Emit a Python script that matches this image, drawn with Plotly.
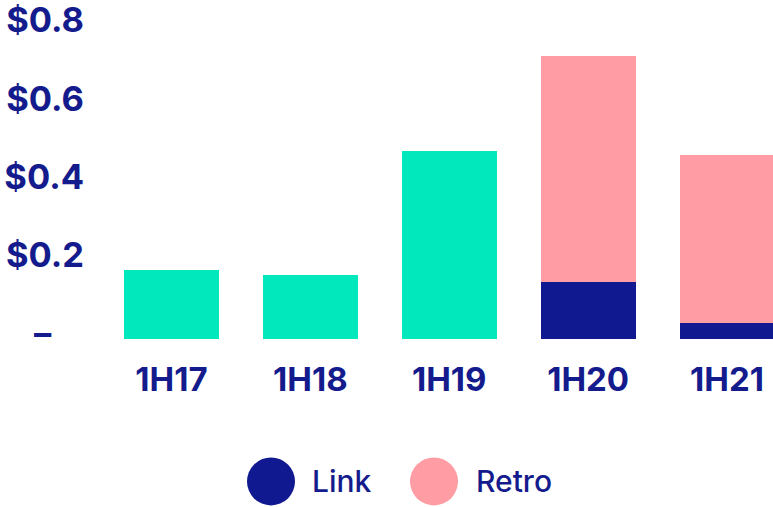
import plotly.graph_objects as go

categories = ["1H17", "1H18", "1H19", "1H20", "1H21"]
core_values = [0.177, 0.164, 0.480, None, None]
link_values = [None, None, None, 0.146, 0.041]
retro_values = [None, None, None, 0.577, 0.429]
y_tick_values = [0, 0.2, 0.4, 0.6, 0.8]
y_tick_labels = ["–" + "\u00a0" * 4, "$0.2", "$0.4", "$0.6", "$0.8"]
legend_names = ["Link", "Retro"]

NAVY = "#10198F"
GREEN = "#00E8BC"
PINK = "#FF9CA4"
TEXT = "#141B8C"
FONT = "Inter"

W, H = 773, 507
ML, MR, MT, MB = 102, 0, 0, 168

fig = go.Figure()
fig.add_bar(x=categories, y=core_values, name="Other", marker_color=GREEN,
            marker_line_width=0, showlegend=False)
fig.add_bar(x=categories, y=link_values, name="Link", marker_color=NAVY,
            marker_line_width=0, showlegend=False)
fig.add_bar(x=categories, y=retro_values, name="Retro", marker_color=PINK,
            marker_line_width=0, showlegend=False)

plot_w = W - ML - MR
plot_h = H - MT - MB
px_per_unit = 398.0

fig.update_layout(
    width=W, height=H,
    margin=dict(l=ML, r=MR, t=MT, b=MB, pad=0),
    barmode="stack",
    bargap=0.316,
    plot_bgcolor="white",
    paper_bgcolor="white",
    showlegend=False,
    font=dict(family=FONT, color=TEXT),
)
fig.update_xaxes(
    range=[-0.5, -0.5 + plot_w / 138.9],
    showgrid=False, zeroline=False, showline=False,
    ticks="", tickfont=dict(size=33, family=FONT, color=TEXT, weight=700),
    ticklabelstandoff=18,
)
fig.update_yaxes(
    range=[0, plot_h / px_per_unit],
    tickmode="array", tickvals=y_tick_values, ticktext=y_tick_labels,
    showgrid=False, zeroline=False, showline=False,
    ticks="", tickfont=dict(size=34.5, family=FONT, color=TEXT, weight=700),
    ticklabelstandoff=17, ticklabelshift=-6, ticklabeloverflow="allow",
)

# custom legend (large circles)
legend_colors = [NAVY, PINK]
circle_px = [271, 434]
text_px = [310, 474]
legend_y_px = 484
for name, col, cx, tx in zip(legend_names, legend_colors, circle_px, text_px):
    xp = (cx - ML) / plot_w
    yp = (H - MB - legend_y_px) / plot_h
    fig.add_shape(type="circle", xref="paper", yref="paper",
                  xsizemode="pixel", ysizemode="pixel",
                  xanchor=xp, yanchor=yp, x0=-24, x1=24, y0=-24, y1=24,
                  fillcolor=col, line_width=0)
    fig.add_annotation(x=(tx - ML) / plot_w, y=yp, xref="paper", yref="paper",
                       text=name, showarrow=False, xanchor="left", yanchor="middle",
                       font=dict(size=30, family=FONT, color=TEXT, weight=500))

fig.write_html("out.html", config={"displayModeBar": False},
               post_script="document.body.style.margin='0';document.body.style.overflow='hidden';")
